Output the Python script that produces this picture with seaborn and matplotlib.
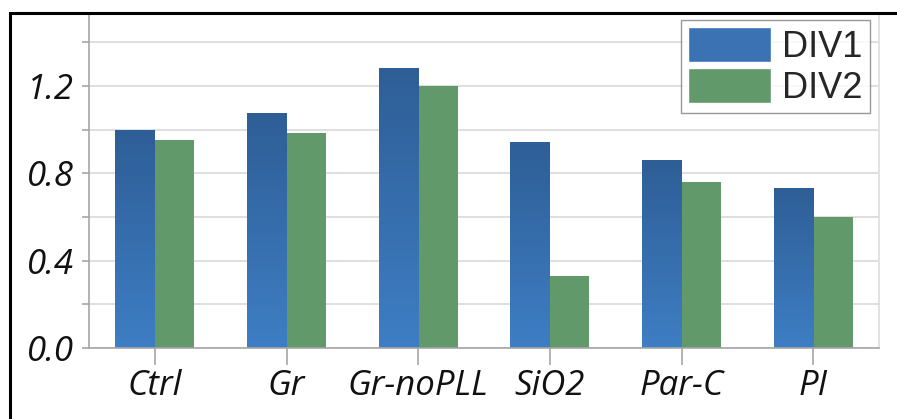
import numpy as np
import pandas as pd
import matplotlib
matplotlib.use("Agg")
import matplotlib.pyplot as plt
import seaborn as sns
from matplotlib.patches import Rectangle
from matplotlib.colors import LinearSegmentedColormap
from matplotlib.font_manager import FontProperties

# datos
categorias = ["Ctrl", "Gr", "Gr-noPLL", "SiO2", "Par-C", "PI"]
div1 = [1.00, 1.075, 1.285, 0.945, 0.86, 0.735]
div2 = [0.955, 0.985, 1.20, 0.33, 0.76, 0.60]
series = ["DIV1", "DIV2"]
yticks = [0.0, 0.4, 0.8, 1.2]

AZUL = "#3a72b4"
VERDE = "#62996a"
GRIS = "#a6a6a6"

df = pd.DataFrame({
    "cat": categorias * 2,
    "valor": div1 + div2,
    "serie": [series[0]] * len(categorias) + [series[1]] * len(categorias),
})

sns.set_style("white")
fig = plt.figure(figsize=(8.97, 4.19), dpi=100)
ax = fig.add_axes([0.0992, 0.1695, 0.8808, 0.797])

sns.barplot(data=df, x="cat", y="valor", hue="serie", order=categorias,
            hue_order=series, palette=[AZUL, VERDE], width=0.6,
            saturation=1, ax=ax, legend=False)

# degradado en las barras azules
cmap = LinearSegmentedColormap.from_list("g", ["#3e7ec4", "#2e5e96"])
grad = np.linspace(0, 1, 256).reshape(-1, 1)
n = len(categorias)
for p in ax.patches[:n]:
    x0, y0 = p.get_x(), p.get_y()
    w, h = p.get_width(), p.get_height()
    im = ax.imshow(grad, cmap=cmap, aspect="auto", origin="lower",
                   extent=[x0, x0 + w, y0, y0 + h], zorder=p.get_zorder() + 0.1)
    im.set_clip_path(p)
    p.set_edgecolor("none")
for p in ax.patches[n:]:
    p.set_edgecolor("none")

ax.set_xlim(-0.5, n - 0.5)
ax.set_ylim(0, 1.53)
ax.set_yticks(np.arange(0, 1.5, 0.2), minor=True)
ax.set_yticks(yticks)
ax.set_yticklabels([f"{v:.1f}" for v in yticks])
ax.yaxis.grid(True, which="both", color="#d9d9d9", lw=1.2)
ax.set_axisbelow(True)
ax.set_xlabel("")
ax.set_ylabel("")

fuente = FontProperties(family="Open Sans", style="italic", size=25)
for lab in ax.get_xticklabels() + ax.get_yticklabels():
    lab.set_fontproperties(fuente)
    lab.set_color("#111111")

ax.tick_params(axis="x", direction="out", length=12, width=1.2, color=GRIS, pad=3, bottom=True)
ax.tick_params(axis="y", which="both", direction="out", length=5, width=1.2, color=GRIS, pad=6, left=True)
ax.tick_params(axis="y", which="minor", length=5)

for s in ["left", "bottom", "right"]:
    ax.spines[s].set_color(GRIS)
    ax.spines[s].set_linewidth(1.2)
ax.spines["right"].set_color("#dddddd")
ax.spines["top"].set_visible(False)

# leyenda
handles = [Rectangle((0, 0), 1, 1, facecolor=AZUL), Rectangle((0, 0), 1, 1, facecolor=VERDE)]
leg = ax.legend(handles, series, loc="upper right", bbox_to_anchor=(0.9886, 0.9825),
                prop=FontProperties(family="Liberation Sans", size=26), frameon=True, fancybox=False,
                handlelength=2.3, handleheight=1.1, handletextpad=0.3, borderpad=0.2,
                labelspacing=0.1, borderaxespad=0)
leg.get_frame().set_edgecolor("#7f7f7f")
leg.get_frame().set_linewidth(1.0)

# marco negro exterior
fig.patches.append(Rectangle((10 / 897, -0.1), 1.2, 1.1 - 13 / 419, transform=fig.transFigure,
                             fill=False, edgecolor="black", lw=2.2, figure=fig))

fig.savefig("out.png", dpi=100)
